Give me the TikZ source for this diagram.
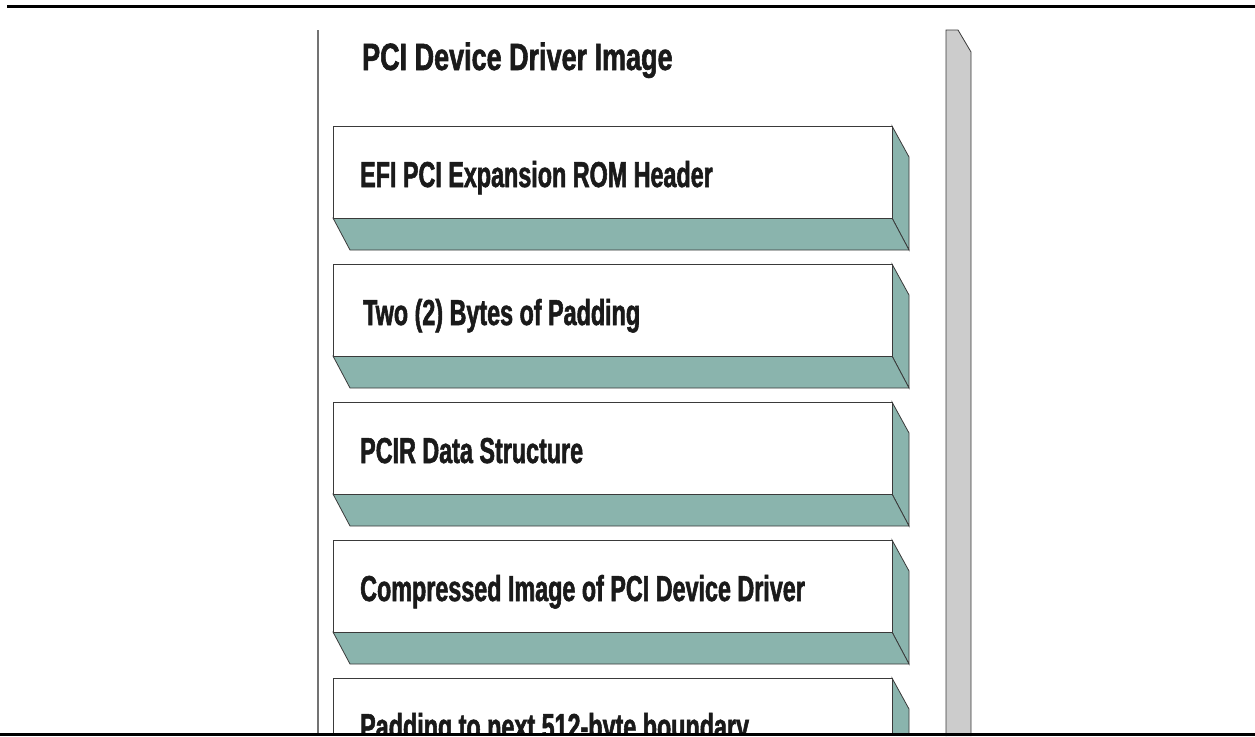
\documentclass[tikz,border=0pt]{standalone}
\usepackage{fontspec}
\setmainfont{Liberation Sans}
\newfontfamily\titlefont{Liberation Sans}[FakeStretch=0.71, FakeBold=1.5]
\newfontfamily\boxfont{Liberation Sans}[FakeStretch=0.648, FakeBold=1.5]
\definecolor{teal}{HTML}{8AB4AD}
\definecolor{barfill}{HTML}{CCCCCC}
\definecolor{edge}{HTML}{3A3A3A}
\definecolor{txt}{HTML}{1A1A1A}
\tikzset{
  rule/.style={line width=3pt, black},
  face/.style={draw=edge, line width=0.8pt, line join=miter},
  lbl/.style={anchor=base west, inner sep=0pt, text=txt, font=\boxfont\bfseries\fontsize{36}{40}\selectfont},
}
\begin{document}
\begin{tikzpicture}[x=1pt,y=-1pt]
\useasboundingbox (0,0) rectangle (1255,736);
% left vertical line
\coordinate (vl1) at (318,30);
\coordinate (vl2) at (318,736);
\draw[line width=2pt, color=black!55] (vl1) -- (vl2);
% grey bar
\draw[face, fill=barfill] (946,736) -- (946,30) -- (958,30) -- (971,52) -- (971,736);
% title
\node[anchor=base west, inner sep=0pt, text=txt, font=\titlefont\bfseries\fontsize{38}{44}\selectfont] (title) at (362,70) {PCI Device Driver Image};
\begin{scope}
\clip (0,0) rectangle (1255,733);
\foreach \T/\name/\tx/\txt in {126/b1/360/{EFI PCI Expansion ROM Header},264/b2/363/{Two (2) Bytes of Padding},402/b3/360/{PCIR Data Structure},540/b4/360/{Compressed Image of PCI Device Driver},678/b5/360/{Padding to next 512-byte boundary}}{
  \draw[face, fill=teal] (892,\T) -- (909,\T+31) -- (909,\T+124) -- (892,\T+92) -- cycle;
  \draw[face, fill=teal] (333,\T+92) -- (892,\T+92) -- (909,\T+124) -- (350,\T+124) -- cycle;
  \draw[face, fill=white] (333,\T) rectangle (892,\T+92);
  \node[lbl] (\name) at (\tx,\T+61) {\txt};
}
\end{scope}
% top and bottom rules
\coordinate (t1) at (7,6);
\coordinate (t2) at (1255,6);
\coordinate (u1) at (0,734.5);
\coordinate (u2) at (1255,734.5);
\draw[rule] (t1) -- (t2);
\draw[rule] (u1) -- (u2);
\end{tikzpicture}
\end{document}
